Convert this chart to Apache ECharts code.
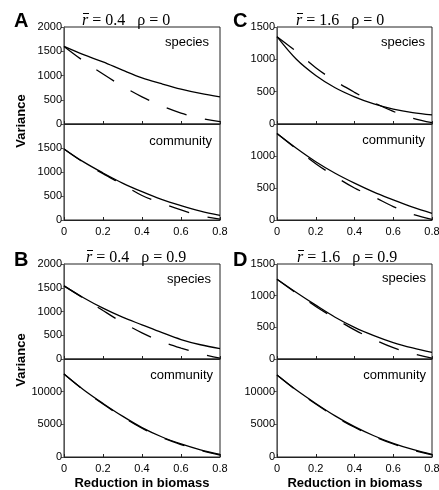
<!DOCTYPE html>
<html><head><meta charset="utf-8">
<script src="https://cdn.jsdelivr.net/npm/echarts@6/dist/echarts.min.js"></script>
<style>html,body{margin:0;padding:0;background:#fff}#c{width:439px;height:490px}</style>
</head><body><div id="c"></div>
<script>
// ---- data ----
const xs = [0, 0.1, 0.2, 0.3, 0.4, 0.5, 0.6, 0.7, 0.8];

const aSpeciesSolid = [1600, 1430, 1280, 1110, 950, 830, 720, 630, 560];
const aSpeciesDash  = [1600, 1300, 1030, 780, 560, 375, 225, 120, 50];
const aCommSolid    = [1480, 1210, 980, 770, 590, 430, 300, 185, 95];
const aCommDash     = [1480, 1200, 965, 740, 510, 350, 210, 90, 20];

const cSpeciesSolid = [1350, 1000, 750, 560, 420, 310, 230, 175, 140];
const cSpeciesDash  = [1350, 1120, 870, 665, 490, 330, 195, 90, 20];
const cCommSolid    = [1350, 1120, 910, 730, 575, 435, 315, 200, 105];
const cCommDash     = [1350, 1110, 880, 680, 500, 360, 210, 90, 10];

const bSpeciesSolid = [1540, 1290, 1070, 880, 720, 560, 410, 300, 220];
const bSpeciesDash  = [1540, 1280, 1020, 770, 550, 370, 230, 110, 20];
const bCommSolid    = [12700, 10300, 8200, 6250, 4500, 3100, 2000, 1100, 400];
const bCommDash     = [12700, 10250, 8100, 6150, 4400, 3000, 1900, 1000, 300];

const dSpeciesSolid = [1260, 1050, 850, 660, 500, 370, 260, 175, 105];
const dSpeciesDash  = [1260, 1040, 830, 640, 460, 310, 180, 85, 15];
const dCommSolid    = [12550, 10250, 8200, 6300, 4640, 3250, 2090, 1150, 410];
const dCommDash     = [12550, 10200, 8100, 6200, 4550, 3150, 1990, 1050, 320];

const yMaxUpper = [2000, 1500, 2000, 1500];      // A, C, B, D
const yMaxLower = [2000, 1500, 15000, 15000];
const yStepUpper = [500, 500, 500, 500];
const yStepLower = [500, 500, 5000, 5000];
const panelLetters = ['A', 'C', 'B', 'D'];
const rBar = ['0.4', '1.6', '0.4', '1.6'];
const rho  = ['0', '0', '0.9', '0.9'];
const seriesSets = [
  [aSpeciesSolid, aSpeciesDash, aCommSolid, aCommDash],
  [cSpeciesSolid, cSpeciesDash, cCommSolid, cCommDash],
  [bSpeciesSolid, bSpeciesDash, bCommSolid, bCommDash],
  [dSpeciesSolid, dSpeciesDash, dCommSolid, dCommDash]
];

// ---- layout ----
const FONT = '"Liberation Sans", Arial, Helvetica, sans-serif';
const SERIF = '"Liberation Serif", "Times New Roman", serif';
const colLeft = [64, 277, 64, 277];
const colWidth = [156, 155, 156, 155];
const upTop = [27, 27, 264, 264];
const upH = [97, 97, 95, 95];
const loTop = [124, 124, 359, 359];
const loH = [96, 96, 98, 98];

const grids = [], xAxes = [], yAxes = [], series = [], graphics = [];
const axisColor = '#222';

for (let p = 0; p < 4; p++) {
  for (let s = 0; s < 2; s++) {
    const gi = grids.length;
    const isLower = s === 1;
    grids.push({
      left: colLeft[p], width: colWidth[p],
      top: isLower ? loTop[p] : upTop[p], height: isLower ? loH[p] : upH[p],
      show: true, borderColor: axisColor, borderWidth: 1,
      outerBoundsMode: 'none', containLabel: false
    });
    xAxes.push({
      gridIndex: gi, type: 'value', min: 0, max: 0.8, interval: 0.2,
      axisLine: { show: true, lineStyle: { color: axisColor, width: 1 } },
      axisTick: { show: true, inside: true, length: 3, lineStyle: { color: axisColor } },
      splitLine: { show: false },
      axisLabel: { show: isLower, color: '#000', fontSize: 11, fontFamily: FONT, margin: 6,
        formatter: v => String(Math.round(v * 10) / 10) }
    });
    yAxes.push({
      gridIndex: gi, type: 'value', min: 0,
      max: isLower ? yMaxLower[p] : yMaxUpper[p],
      interval: isLower ? yStepLower[p] : yStepUpper[p],
      axisLine: { show: true, lineStyle: { color: '#555', width: 1 } },
      axisTick: { show: true, inside: false, length: 3, lineStyle: { color: '#555' } },
      splitLine: { show: false },
      axisLabel: { show: true, showMaxLabel: !isLower, color: '#000', fontSize: 11, fontFamily: FONT, margin: 2,
        formatter: v => String(v) }
    });
    const solid = seriesSets[p][s * 2];
    const dash = seriesSets[p][s * 2 + 1];
    series.push({
      type: 'line', xAxisIndex: gi, yAxisIndex: gi, smooth: 0.35, showSymbol: false,
      silent: true, data: xs.map((x, i) => [x, solid[i]]),
      lineStyle: { color: '#000', width: 1.3 }
    });
    series.push({
      type: 'line', xAxisIndex: gi, yAxisIndex: gi, smooth: 0.35, showSymbol: false,
      silent: true, data: xs.map((x, i) => [x, dash[i]]),
      lineStyle: { color: '#000', width: 1.3, type: [21, 19] }
    });
  }
}

// panel letters and titles
const letterPos = [[14, 21], [233, 21], [14, 260], [233, 260]];
const titlePos = [[82, 21], [296, 21], [86, 258], [297, 258]];
for (let p = 0; p < 4; p++) {
  graphics.push({ type: 'text', x: letterPos[p][0], y: letterPos[p][1],
    style: { text: panelLetters[p], font: 'bold 20px ' + FONT, fill: '#000', align: 'left', verticalAlign: 'middle' } });
  graphics.push({ type: 'text', x: titlePos[p][0], y: titlePos[p][1],
    style: { text: '{i|r} = ' + rBar[p] + '   \u03c1 = ' + rho[p],
      font: '16px ' + SERIF, fill: '#000', align: 'left', verticalAlign: 'middle',
      rich: { i: { fontStyle: 'italic', fontFamily: SERIF, fontSize: 16 } } } });
  // bar over r (mean)
  graphics.push({ type: 'line', shape: { x1: titlePos[p][0] + 1, y1: titlePos[p][1] - 7.5, x2: titlePos[p][0] + 7, y2: titlePos[p][1] - 7.5 },
    style: { stroke: '#000', lineWidth: 1 } });
}
// species / community labels
const subLabels = [
  ['species', 209, 42], ['community', 212, 141],
  ['species', 425, 42], ['community', 425, 140],
  ['species', 211, 279], ['community', 213, 375],
  ['species', 426, 278], ['community', 426, 375]
];
subLabels.forEach(l => graphics.push({ type: 'text', x: l[1], y: l[2],
  style: { text: l[0], font: '13px ' + FONT, fill: '#000', align: 'right', verticalAlign: 'middle' } }));
// Variance
[[21, 121], [21, 360]].forEach(v => graphics.push({ type: 'text', x: v[0], y: v[1], rotation: Math.PI / 2,
  style: { text: 'Variance', font: 'bold 13px ' + FONT, fill: '#000', align: 'center', verticalAlign: 'middle' } }));
// x title
[[142, 483], [355, 483]].forEach(v => graphics.push({ type: 'text', x: v[0], y: v[1],
  style: { text: 'Reduction in biomass', font: 'bold 13px ' + FONT, fill: '#000', align: 'center', verticalAlign: 'middle' } }));

const chart = echarts.init(document.getElementById('c'), null, { renderer: 'canvas' });
chart.setOption({
  animation: false,
  backgroundColor: '#fff',
  grid: grids, xAxis: xAxes, yAxis: yAxes, series: series, graphic: graphics
});
</script></body></html>
